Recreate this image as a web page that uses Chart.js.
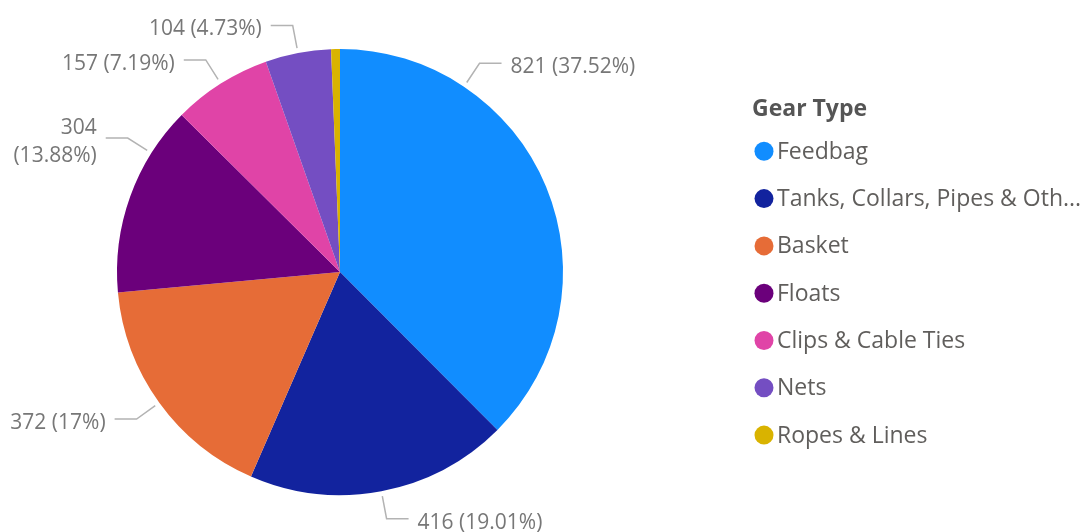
<!DOCTYPE html>
<html>
<head>
<meta charset="utf-8">
<script src="https://cdn.jsdelivr.net/npm/chart.js@4.4.1/dist/chart.umd.min.js"></script>
<style>
    body { margin: 0; background: #fff; }
    #wrap { width: 1091px; height: 532px; }
</style>
</head>
<body>
<div id="wrap"><canvas id="gearChart" width="1091" height="532"></canvas></div>
<script>
// Gear type counts
const gearTypes = ['Feedbag', 'Tanks, Collars, Pipes & Oth...', 'Basket', 'Floats', 'Clips & Cable Ties', 'Nets', 'Ropes & Lines'];
const gearCounts = [821, 416, 372, 304, 157, 104, 14];
const gearPercents = ['37.52%', '19.01%', '17%', '13.88%', '7.19%', '4.73%', '0.64%'];
const gearColors = ['#118DFF', '#12239E', '#E66C37', '#6B007B', '#E044A7', '#744EC2', '#D9B300'];
const legendTitle = 'Gear Type';

const FONT = '"Open Sans", "Noto Sans", sans-serif';

// outside labels with leader lines
const outsideLabels = {
    id: 'outsideLabels',
    afterDatasetsDraw(chart, args, opts) {
        const ctx = chart.ctx;
        const meta = chart.getDatasetMeta(0);
        ctx.save();
        ctx.font = '21px ' + FONT;
        ctx.textBaseline = 'middle';
        meta.data.forEach(function(arc, i) {
            const p = arc.getProps(['x', 'y', 'startAngle', 'endAngle', 'outerRadius'], true);
            const span = p.endAngle - p.startAngle;
            if (span < 0.05) return;
            const f = opts.anchor[i] !== undefined ? opts.anchor[i] : 0.5;
            const a = p.startAngle + span * f;
            const cos = Math.cos(a), sin = Math.sin(a);
            const r0 = p.outerRadius + 5, r1 = p.outerRadius + 28;
            const x0 = p.x + cos * r0, y0 = p.y + sin * r0;
            const x1 = p.x + cos * r1, y1 = p.y + sin * r1;
            const dir = cos >= 0 ? 1 : -1;
            const x2 = x1 + dir * 22;
            ctx.strokeStyle = '#B3B3B3';
            ctx.lineWidth = 1.5;
            ctx.beginPath();
            ctx.moveTo(x0, y0);
            ctx.lineTo(x1, y1);
            ctx.lineTo(x2, y1);
            ctx.stroke();

            ctx.fillStyle = '#777777';
            ctx.textAlign = dir > 0 ? 'left' : 'right';
            const tx = x2 + dir * 9;
            const text = chart.data.datasets[0].data[i] + ' (' + gearPercents[i] + ')';
            const w = ctx.measureText(text).width;
            if (dir < 0 && tx - w < 4) {
                ctx.fillText(String(chart.data.datasets[0].data[i]), tx, y1 - 10);
                ctx.fillText('(' + gearPercents[i] + ')', tx, y1 + 18);
            } else {
                ctx.fillText(text, tx, y1 + 4);
            }
        });
        ctx.restore();
    }
};

// legend on the right
const sideLegend = {
    id: 'sideLegend',
    afterDraw(chart, args, opts) {
        const ctx = chart.ctx;
        ctx.save();
        ctx.textBaseline = 'middle';
        ctx.textAlign = 'left';
        ctx.fillStyle = '#555555';
        ctx.font = 'bold 23px ' + FONT;
        ctx.fillText(legendTitle, opts.x, opts.y);
        ctx.font = '23px ' + FONT;
        chart.data.labels.forEach(function(label, i) {
            const y = opts.y + opts.gap * (i + 1) - 5;
            ctx.fillStyle = chart.data.datasets[0].backgroundColor[i];
            ctx.beginPath();
            ctx.arc(opts.x + 12, y, 9.5, 0, Math.PI * 2);
            ctx.fill();
            ctx.fillStyle = '#605E5C';
            ctx.fillText(label, opts.x + 25, y + 1);
        });
        ctx.restore();
    }
};

new Chart(document.getElementById('gearChart'), {
    type: 'pie',
    data: {
        labels: gearTypes,
        datasets: [{
            data: gearCounts,
            backgroundColor: gearColors,
            borderWidth: 0
        }]
    },
    options: {
        responsive: false,
        animation: false,
        layout: {
            padding: { left: 117, right: 528, top: 49, bottom: 37 }
        },
        plugins: {
            legend: { display: false },
            tooltip: { enabled: false },
            outsideLabels: { anchor: { 0: 0.25, 3: 0.75 } },
            sideLegend: { x: 752, y: 109, gap: 47.3 }
        }
    },
    plugins: [outsideLabels, sideLegend]
});
</script>
</body>
</html>
